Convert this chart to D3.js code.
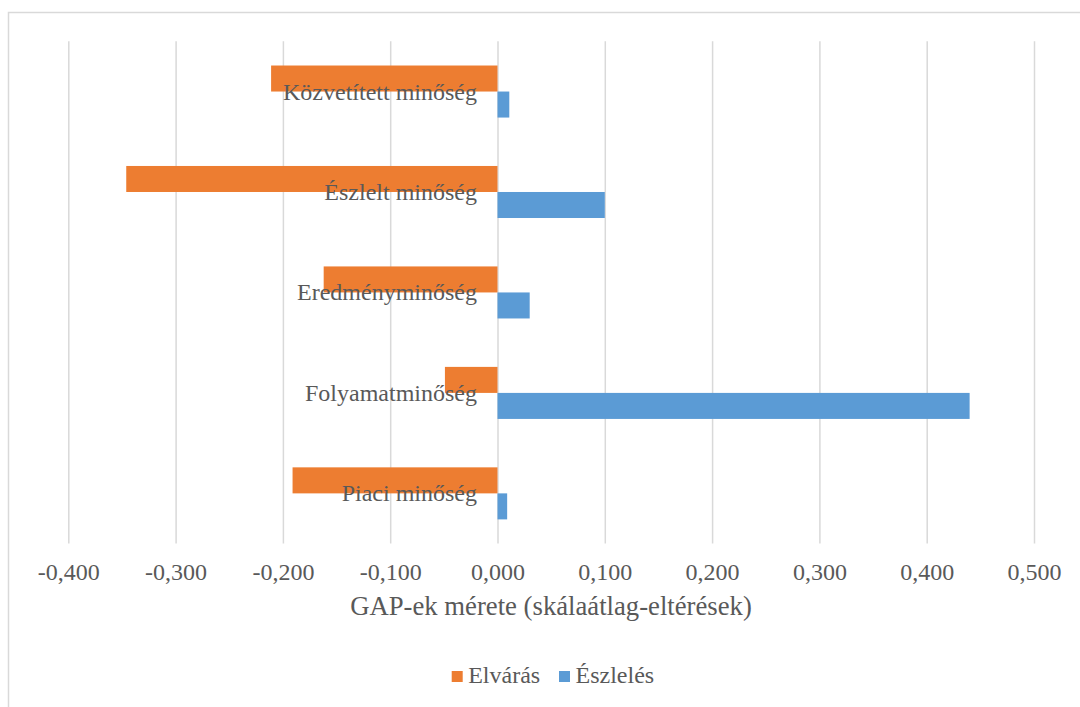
<!DOCTYPE html>
<html>
<head>
<meta charset="utf-8">
<script src="https://cdn.jsdelivr.net/npm/d3@7"></script>
<style>
  body { margin: 0; background: #fff; }
  svg text { font-family: "Liberation Serif", "Times New Roman", serif; fill: #595959; }
</style>
</head>
<body>
<div id="container"></div>
<script>
/* DATA */
const categories = ["Közvetített minőség", "Észlelt minőség", "Eredményminőség", "Folyamatminőség", "Piaci minőség"];
const seriesNames = ["Elvárás", "Észlelés"];
const elvaras = [-0.211, -0.346, -0.162, -0.049, -0.191];
const eszleles = [0.011, 0.100, 0.030, 0.440, 0.009];
const xTicks = [-0.4, -0.3, -0.2, -0.1, 0, 0.1, 0.2, 0.3, 0.4, 0.5];
const axisTitle = "GAP-ek mérete (skálaátlag-eltérések)";

/* CONSTANTS */
const width = 1080, height = 707;
const colors = { "Elvárás": "#ED7D31", "Észlelés": "#5B9BD5" };
const plot = { left: 68.3, right: 1034, top: 41.3, bottom: 543.6 };

const rows = categories.map((c, i) => ({ cat: c, "Elvárás": elvaras[i], "Észlelés": eszleles[i] }));

const svg = d3.select("#container").append("svg")
  .attr("width", width)
  .attr("height", height);

// outer chart border (runs off the right/bottom edge)
svg.append("rect")
  .attr("x", 8.5).attr("y", 12.5)
  .attr("width", 1100).attr("height", 720)
  .attr("fill", "none")
  .attr("stroke", "#D9D9D9")
  .attr("stroke-width", 1.5);

/* SCALES */
const xScale = d3.scaleLinear()
  .domain([-0.4, 0.5])
  .range([plot.left, plot.right]);

const yScale = d3.scaleBand()
  .domain(categories)
  .range([plot.top, plot.bottom])
  .paddingInner(0.482)
  .paddingOuter(0.241);

const ySub = d3.scaleBand()
  .domain(seriesNames)
  .range([0, yScale.bandwidth()]);

/* GRID */
const xAxis = d3.axisBottom(xScale)
  .tickValues(xTicks)
  .tickSize(-(plot.bottom - plot.top))
  .tickFormat(d => d3.format(".3f")(d).replace(".", ",").replace("−", "-"));

const xAxisGroup = svg.append("g")
  .attr("transform", `translate(0,${plot.bottom})`)
  .call(xAxis);

xAxisGroup.select(".domain").remove();
xAxisGroup.selectAll(".tick line")
  .attr("stroke", "#D9D9D9")
  .attr("stroke-width", 1.5);
xAxisGroup.selectAll(".tick text")
  .attr("y", 36)
  .attr("dy", 0)
  .attr("font-size", 24)
  .style("fill", "#595959");

/* BARS */
const groups = svg.append("g").selectAll("g")
  .data(rows)
  .join("g")
  .attr("transform", d => `translate(0,${yScale(d.cat)})`);

groups.selectAll("rect")
  .data(d => seriesNames.map(s => ({ key: s, value: d[s] })))
  .join("rect")
  .attr("x", d => xScale(Math.min(0, d.value)))
  .attr("y", d => ySub(d.key))
  .attr("width", d => Math.abs(xScale(d.value) - xScale(0)))
  .attr("height", ySub.bandwidth())
  .attr("fill", d => colors[d.key]);

/* CATEGORY LABELS (drawn over the bars) */
svg.append("g").selectAll("text")
  .data(categories)
  .join("text")
  .attr("x", 477)
  .attr("y", d => yScale(d) + yScale.bandwidth() / 2 + 8)
  .attr("text-anchor", "end")
  .attr("font-size", 24)
  .text(d => d);

/* AXIS TITLE */
svg.append("text")
  .attr("x", 551)
  .attr("y", 615)
  .attr("text-anchor", "middle")
  .attr("font-size", 26.7)
  .text(axisTitle);

/* LEGEND */
const legendX = [451.7, 559];
const legend = svg.append("g").selectAll("g")
  .data(seriesNames)
  .join("g")
  .attr("transform", (d, i) => `translate(${legendX[i]},671)`);

legend.append("rect")
  .attr("width", 11)
  .attr("height", 11)
  .attr("fill", d => colors[d]);

legend.append("text")
  .attr("x", 16.5)
  .attr("y", 11.5)
  .attr("font-size", 24)
  .text(d => d);
</script>
</body>
</html>
